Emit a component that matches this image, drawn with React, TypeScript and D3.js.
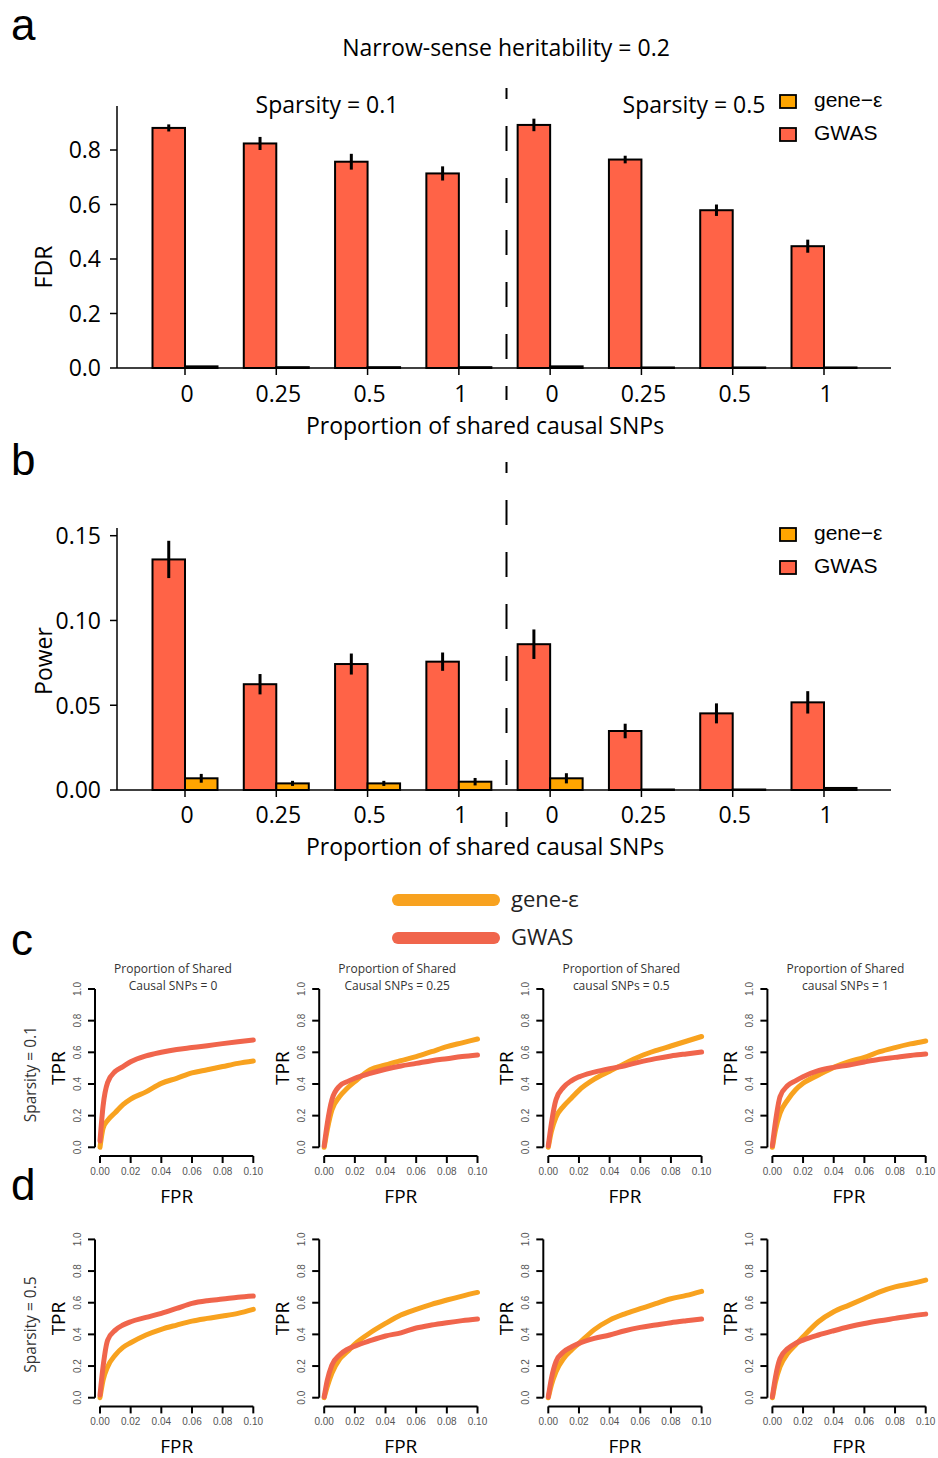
import React from "react";
import * as d3 from "d3";

// ---------- Data ----------
const groupLabels = ["0", "0.25", "0.5", "1", "0", "0.25", "0.5", "1"];
const methods = ["gene−ε", "GWAS"];

const fdrGWAS = [0.881, 0.824, 0.757, 0.714, 0.892, 0.765, 0.579, 0.447];
const fdrGWASErr = [0.013, 0.024, 0.029, 0.026, 0.023, 0.014, 0.021, 0.024];
const fdrGene = [0.006, 0.003, 0.003, 0.003, 0.006, 0.002, 0.002, 0.002];
const fdrGeneErr = [0, 0, 0, 0, 0, 0, 0, 0];

const powerGWAS = [0.136, 0.0624, 0.0743, 0.0757, 0.086, 0.0348, 0.0452, 0.0517];
const powerGWASErr = [0.011, 0.006, 0.0062, 0.0054, 0.0087, 0.0043, 0.0059, 0.0066];
const powerGene = [0.0069, 0.0039, 0.0039, 0.0049, 0.0069, 0.0003, 0.0003, 0.0012];
const powerGeneErr = [0.0026, 0.0015, 0.0015, 0.0022, 0.003, 0, 0, 0];

const fdrTicks = [0, 0.2, 0.4, 0.6, 0.8];
const powerTicks = [0, 0.05, 0.1, 0.15];

const rocFPR = [0, 0.002, 0.005, 0.01, 0.015, 0.02, 0.03, 0.04, 0.05, 0.06, 0.07, 0.08, 0.09, 0.1];
const rocTitlesTop = ["Proportion of Shared", "Proportion of Shared", "Proportion of Shared", "Proportion of Shared"];
const rocTitlesBottom = ["Causal SNPs = 0", "Causal SNPs = 0.25", "causal SNPs = 0.5", "causal SNPs = 1"];
const rocRowLabels = ["Sparsity = 0.1", "Sparsity = 0.5"];

// row c (sparsity 0.1)
const c1GWAS = [0.04, 0.26, 0.41, 0.48, 0.51, 0.54, 0.577, 0.6, 0.618, 0.63, 0.642, 0.655, 0.667, 0.678];
const c1Gene = [0, 0.12, 0.17, 0.22, 0.27, 0.305, 0.35, 0.404, 0.436, 0.47, 0.49, 0.51, 0.53, 0.545];
const c2GWAS = [0.01, 0.15, 0.3, 0.387, 0.415, 0.436, 0.467, 0.493, 0.514, 0.53, 0.547, 0.56, 0.573, 0.583];
const c2Gene = [0, 0.11, 0.235, 0.32, 0.373, 0.415, 0.49, 0.52, 0.547, 0.573, 0.604, 0.636, 0.66, 0.684];
const c3GWAS = [0.01, 0.15, 0.3, 0.38, 0.42, 0.445, 0.475, 0.497, 0.515, 0.54, 0.56, 0.577, 0.59, 0.602];
const c3Gene = [0, 0.1, 0.19, 0.26, 0.31, 0.36, 0.43, 0.48, 0.53, 0.575, 0.61, 0.64, 0.67, 0.7];
const c4GWAS = [0.01, 0.16, 0.32, 0.39, 0.42, 0.446, 0.484, 0.505, 0.52, 0.539, 0.556, 0.568, 0.58, 0.589];
const c4Gene = [0, 0.11, 0.215, 0.3, 0.362, 0.404, 0.457, 0.505, 0.541, 0.568, 0.604, 0.63, 0.653, 0.672];
// row d (sparsity 0.5)
const d1GWAS = [0.017, 0.196, 0.364, 0.427, 0.459, 0.48, 0.507, 0.533, 0.564, 0.596, 0.613, 0.623, 0.634, 0.642];
const d1Gene = [0, 0.11, 0.196, 0.27, 0.318, 0.347, 0.396, 0.432, 0.459, 0.484, 0.501, 0.516, 0.533, 0.558];
const d2GWAS = [0.006, 0.11, 0.206, 0.27, 0.305, 0.326, 0.36, 0.39, 0.41, 0.44, 0.459, 0.474, 0.487, 0.497];
const d2Gene = [0, 0.07, 0.154, 0.242, 0.29, 0.339, 0.41, 0.469, 0.522, 0.558, 0.59, 0.617, 0.642, 0.665];
const d3GWAS = [0.006, 0.12, 0.227, 0.29, 0.32, 0.343, 0.375, 0.396, 0.423, 0.444, 0.459, 0.474, 0.486, 0.497];
const d3Gene = [0, 0.08, 0.164, 0.248, 0.3, 0.343, 0.43, 0.49, 0.53, 0.562, 0.594, 0.625, 0.646, 0.672];
const d4GWAS = [0.006, 0.13, 0.248, 0.31, 0.343, 0.364, 0.396, 0.423, 0.448, 0.469, 0.486, 0.501, 0.516, 0.528];
const d4Gene = [0, 0.1, 0.196, 0.28, 0.333, 0.385, 0.48, 0.543, 0.585, 0.627, 0.669, 0.7, 0.72, 0.743];

const rocGWAS = [[c1GWAS, c2GWAS, c3GWAS, c4GWAS], [d1GWAS, d2GWAS, d3GWAS, d4GWAS]];
const rocGene = [[c1Gene, c2Gene, c3Gene, c4Gene], [d1Gene, d2Gene, d3Gene, d4Gene]];
const rocXTicks = [0, 0.02, 0.04, 0.06, 0.08, 0.1];
const rocYTicks = [0, 0.2, 0.4, 0.6, 0.8, 1.0];

// ---------- Styles ----------
const MAIN_FONT = "'Open Sans', 'Noto Sans', sans-serif";
const R_FONT = "'Liberation Sans', Arial, sans-serif";
const COL_GWAS = "#FF6347";
const COL_GENE = "#FFA500";
const LINE_GWAS = "#F0654C";
const LINE_GENE = "#F8A21F";
const FS = 23;

type BarProps = {
  y: d3.ScaleLinear<number, number>;
  ticks: number[];
  tickFmt: (v: number) => string;
  gwas: number[];
  gwasErr: number[];
  gene: number[];
  geneErr: number[];
  axisTop: number;
  xLabelY: number;
  xTitleY: number;
  yTitle: string;
  yTitleCenter: number;
};

const xBar = d3.scaleLinear().domain([0, 7]).range([185, 824]);
const BAR_W = 32.5;
const AXIS_L = 117;
const AXIS_R = 891;

function BarPanel(p: BarProps) {
  const y0 = p.y(0);
  return (
    <g>
      {p.gwas.map((v, i) => (
        <rect key={"g" + i} x={xBar(i) - BAR_W} y={p.y(v)} width={BAR_W} height={y0 - p.y(v)}
          fill={COL_GWAS} stroke="#000" strokeWidth={2} />
      ))}
      {p.gene.map((v, i) => (
        <rect key={"e" + i} x={xBar(i)} y={p.y(v)} width={BAR_W} height={Math.max(0.5, y0 - p.y(v))}
          fill={COL_GENE} stroke="#000" strokeWidth={2} />
      ))}
      {p.gwas.map((v, i) => p.gwasErr[i] > 0 ? (
        <line key={"ge" + i} x1={xBar(i) - BAR_W / 2} x2={xBar(i) - BAR_W / 2}
          y1={p.y(v - p.gwasErr[i])} y2={p.y(v + p.gwasErr[i])} stroke="#000" strokeWidth={3} />
      ) : null)}
      {p.gene.map((v, i) => p.geneErr[i] > 0 ? (
        <line key={"ee" + i} x1={xBar(i) + BAR_W / 2} x2={xBar(i) + BAR_W / 2}
          y1={p.y(v - p.geneErr[i])} y2={p.y(v + p.geneErr[i])} stroke="#000" strokeWidth={3} />
      ) : null)}
      {/* axes */}
      <line x1={AXIS_L} x2={AXIS_R} y1={y0} y2={y0} stroke="#000" strokeWidth={1.5} />
      <line x1={AXIS_L} x2={AXIS_L} y1={p.axisTop} y2={y0} stroke="#000" strokeWidth={1.5} />
      {p.ticks.map((t) => (
        <g key={"t" + t}>
          <line x1={AXIS_L - 7} x2={AXIS_L} y1={p.y(t)} y2={p.y(t)} stroke="#000" strokeWidth={1.5} />
          <text x={AXIS_L - 16} y={p.y(t)} dy="0.36em" textAnchor="end" fontSize={FS} fontFamily={MAIN_FONT}>
            {p.tickFmt(t)}
          </text>
        </g>
      ))}
      {groupLabels.map((l, i) => (
        <g key={"x" + i}>
          <line x1={xBar(i)} x2={xBar(i)} y1={y0} y2={y0 + 7} stroke="#000" strokeWidth={1.5} />
          <text x={xBar(i) + 2} y={p.xLabelY} textAnchor="middle" fontSize={FS} fontFamily={MAIN_FONT}>{l}</text>
        </g>
      ))}
      <text x={485} y={p.xTitleY} textAnchor="middle" fontSize={FS} fontFamily={MAIN_FONT}>
        Proportion of shared causal SNPs
      </text>
      <text transform={`translate(52,${p.yTitleCenter}) rotate(-90)`} textAnchor="middle" fontSize={FS}
        fontFamily={MAIN_FONT}>{p.yTitle}</text>
    </g>
  );
}

function BarLegend({ top }: { top: number }) {
  const cols = [COL_GENE, COL_GWAS];
  return (
    <g>
      {methods.map((m, i) => (
        <g key={m}>
          <rect x={780} y={top + i * 33} width={16} height={13} fill={cols[i]} stroke="#000" strokeWidth={1.8} />
          <text x={814} y={top + i * 33 + 12} fontSize={21} fontFamily={R_FONT}>{m}</text>
        </g>
      ))}
    </g>
  );
}

const ROC_X0 = [100, 324.2, 548.3, 772.4];
const ROC_W = 153.3;
const ROC_Y0 = [1147.3, 1397.7];
const ROC_H = 158.3;

function RocPanel({ row, col }: { row: number; col: number }) {
  const x = d3.scaleLinear().domain([0, 0.1]).range([ROC_X0[col], ROC_X0[col] + ROC_W]);
  const y = d3.scaleLinear().domain([0, 1]).range([ROC_Y0[row], ROC_Y0[row] - ROC_H]);
  const line = d3.line<number>()
    .x((_, i) => x(rocFPR[i]))
    .y((d) => y(d))
    .curve(d3.curveMonotoneX);
  const axX = ROC_X0[col] - 5;
  const axY = ROC_Y0[row] + 8.7;
  const gray = "#555";
  return (
    <g>
      <path d={line(rocGene[row][col]) || ""} fill="none" stroke={LINE_GENE} strokeWidth={5} strokeLinecap="round" strokeLinejoin="round" />
      <path d={line(rocGWAS[row][col]) || ""} fill="none" stroke={LINE_GWAS} strokeWidth={5} strokeLinecap="round" strokeLinejoin="round" />
      <line x1={axX} x2={axX} y1={y(0)} y2={y(1)} stroke="#000" strokeWidth={2} />
      {rocYTicks.map((t) => (
        <g key={"y" + t}>
          <line x1={axX - 7} x2={axX} y1={y(t)} y2={y(t)} stroke="#000" strokeWidth={2} />
          <text transform={`translate(${axX - 14},${y(t)}) rotate(-90)`} textAnchor="middle" fontSize={10}
            fill={gray} fontFamily={R_FONT}>{t.toFixed(1)}</text>
        </g>
      ))}
      <line x1={x(0)} x2={x(0.1)} y1={axY} y2={axY} stroke="#000" strokeWidth={2} />
      {rocXTicks.map((t) => (
        <g key={"x" + t}>
          <line x1={x(t)} x2={x(t)} y1={axY} y2={axY + 7} stroke="#000" strokeWidth={2} />
          <text x={x(t)} y={axY + 19} textAnchor="middle" fontSize={10} fill={gray} fontFamily={R_FONT}>{t.toFixed(2)}</text>
        </g>
      ))}
      <text x={x(0.05)} y={axY + 47} textAnchor="middle" fontSize={19} fontFamily={MAIN_FONT}>FPR</text>
      <text transform={`translate(${ROC_X0[col] - 35},${(y(0) + y(1)) / 2}) rotate(-90)`} textAnchor="middle"
        fontSize={19} fontFamily={MAIN_FONT}>TPR</text>
      {row === 0 ? (
        <g>
          <text x={ROC_X0[col] + 73} y={973} textAnchor="middle" fontSize={12} fill="#333" fontFamily={MAIN_FONT}>{rocTitlesTop[col]}</text>
          <text x={ROC_X0[col] + 73} y={990} textAnchor="middle" fontSize={12} fill="#333" fontFamily={MAIN_FONT}>{rocTitlesBottom[col]}</text>
        </g>
      ) : null}
      {col === 0 ? (
        <text transform={`translate(36,${(y(0) + y(1)) / 2 + 6}) rotate(-90)`} textAnchor="middle" fontSize={15.5}
          fill="#333" fontFamily={MAIN_FONT}>{rocRowLabels[row]}</text>
      ) : null}
    </g>
  );
}

export default function App() {
  const yA = d3.scaleLinear().domain([0, 0.8]).range([368, 150]);
  const yB = d3.scaleLinear().domain([0, 0.15]).range([790, 535.7]);
  const lineCols = [LINE_GENE, LINE_GWAS];
  return (
    <svg width={938} height={1458} viewBox="0 0 938 1458"
      style={{ position: "absolute", left: 0, top: 0, background: "#fff" }}>
      <rect x={0} y={0} width={938} height={1458} fill="#fff" />
      {/* panel labels */}
      <text x={11} y={40} fontSize={44} fontFamily={R_FONT}>a</text>
      <text x={11} y={475} fontSize={44} fontFamily={R_FONT}>b</text>
      <text x={11} y={955} fontSize={44} fontFamily={R_FONT}>c</text>
      <text x={11} y={1200} fontSize={44} fontFamily={R_FONT}>d</text>

      <text x={506} y={56} textAnchor="middle" fontSize={FS} fontFamily={MAIN_FONT}>Narrow-sense heritability = 0.2</text>
      <text x={327} y={113} textAnchor="middle" fontSize={FS} fontFamily={MAIN_FONT}>Sparsity = 0.1</text>
      <text x={694} y={113} textAnchor="middle" fontSize={FS} fontFamily={MAIN_FONT}>Sparsity = 0.5</text>

      {/* dashed separators */}
      <line x1={506.5} x2={506.5} y1={88} y2={400} stroke="#000" strokeWidth={2} strokeDasharray="25 27" strokeDashoffset={14} />
      <line x1={506.5} x2={506.5} y1={462} y2={827} stroke="#000" strokeWidth={2} strokeDasharray="25 27" strokeDashoffset={14} />

      <BarPanel y={yA} ticks={fdrTicks} tickFmt={(v) => v.toFixed(1)} gwas={fdrGWAS} gwasErr={fdrGWASErr}
        gene={fdrGene} geneErr={fdrGeneErr} axisTop={106} xLabelY={402} xTitleY={434} yTitle="FDR" yTitleCenter={267} />
      <BarLegend top={95} />

      <BarPanel y={yB} ticks={powerTicks} tickFmt={(v) => v.toFixed(2)} gwas={powerGWAS} gwasErr={powerGWASErr}
        gene={powerGene} geneErr={powerGeneErr} axisTop={528} xLabelY={823} xTitleY={855} yTitle="Power" yTitleCenter={661} />
      <BarLegend top={528} />

      {/* ROC legend */}
      {methods.map((m, i) => (
        <g key={"rl" + m}>
          <line x1={398} x2={494} y1={900 + i * 38} y2={900 + i * 38} stroke={lineCols[i]} strokeWidth={12} strokeLinecap="round" />
          <text x={511} y={907 + i * 38} fontSize={22} fontFamily={MAIN_FONT} fill="#222">{i === 0 ? "gene-ε" : "GWAS"}</text>
        </g>
      ))}

      {[0, 1].map((r) => [0, 1, 2, 3].map((c) => <RocPanel key={r + "-" + c} row={r} col={c} />))}
    </svg>
  );
}
